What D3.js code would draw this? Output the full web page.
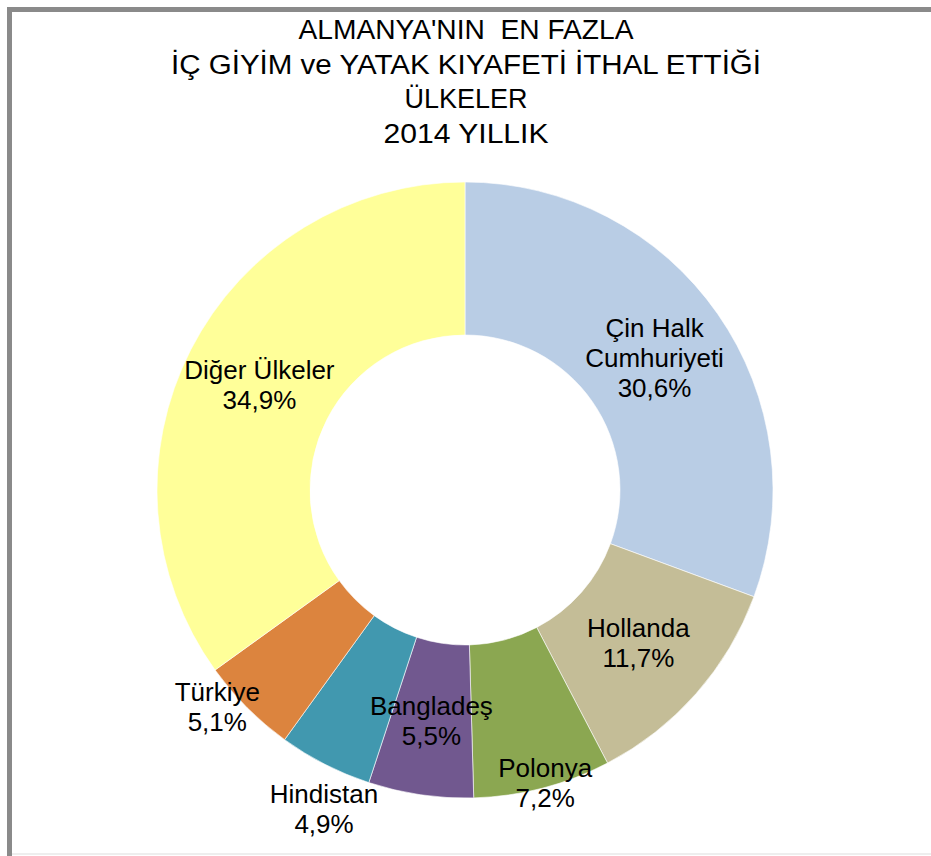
<!DOCTYPE html>
<meta charset="utf-8">
<style>
body { margin: 0; background: #ffffff; }
svg { display: block; }
.title { font-family: "Liberation Sans", Arial, sans-serif; font-size: 27px; fill: #000; white-space: pre; }
.label { font-family: "Liberation Sans", Arial, sans-serif; font-size: 26px; fill: #000; }
</style>
<svg width="931" height="856"></svg>
<script src="https://d3js.org/d3.v7.min.js"></script>
<script>

// chart data
const countries = ["Çin Halk Cumhuriyeti", "Hollanda", "Polonya", "Bangladeş", "Hindistan", "Türkiye", "Diğer Ülkeler"];
const shares = [30.6, 11.7, 7.2, 5.5, 4.9, 5.1, 34.9];
const labelLines = [["Çin Halk", "Cumhuriyeti"], ["Hollanda"], ["Polonya"], ["Bangladeş"], ["Hindistan"], ["Türkiye"], ["Diğer Ülkeler"]];
const titleLines = ["ALMANYA'NIN  EN FAZLA", "İÇ GİYİM ve YATAK KIYAFETİ İTHAL ETTİĞİ", "ÜLKELER", "2014 YILLIK"];

// styling / layout
const colours = ["#b9cde5", "#c4bd97", "#8ba751", "#71588f", "#4198af", "#dc843e", "#ffff99"];
const titleWidths = [335, 590, 123, 165];
// label radius and angle nudge (degrees) per slice
const labelPos = [[231, 0], [231, 0], [304, -0.7], [233, 0], [349, -3.2], [329, 3.8], [231, 0]];

const width = 931, height = 856;
const cx = 465, cy = 490;
const outerR = 308, innerR = 155;
const lineH = 30;

const svg = d3.select("svg");

// frame: dark left and top edge, faint bottom line
svg.append("rect").attr("x", 7).attr("y", 7).attr("width", width - 7).attr("height", 5).attr("fill", "#8a8a8a");
svg.append("rect").attr("x", 7).attr("y", 7).attr("width", 5).attr("height", height - 7).attr("fill", "#8a8a8a");
svg.append("rect").attr("x", 12).attr("y", 853).attr("width", width - 12).attr("height", 2).attr("fill", "#eeeeee");

// title
svg.selectAll(".title")
  .data(titleLines)
  .enter().append("text")
  .attr("class", "title")
  .attr("x", 466)
  .attr("y", function(d, i) { return 39 + i * 34.5; })
  .attr("text-anchor", "middle")
  .attr("textLength", function(d, i) { return titleWidths[i]; })
  .attr("lengthAdjust", "spacingAndGlyphs")
  .text(function(d) { return d; });

const pie = d3.pie().sort(null).value(function(d) { return d; });
const arcs = pie(shares);

const arc = d3.arc().innerRadius(innerR).outerRadius(outerR);

const g = svg.append("g").attr("transform", "translate(" + cx + "," + cy + ")");

g.selectAll(".slice")
  .data(arcs)
  .enter().append("path")
  .attr("class", "slice")
  .attr("d", arc)
  .attr("fill", function(d, i) { return colours[i]; })
  .attr("stroke", "#ffffff")
  .attr("stroke-width", 0.6);

const fmt = function(v) { return v.toFixed(1).replace(".", ",") + "%"; };

const labels = g.selectAll(".label")
  .data(arcs)
  .enter().append("text")
  .attr("class", "label")
  .attr("text-anchor", "middle")
  .each(function(d, i) {
    const mid = (d.startAngle + d.endAngle) / 2 + labelPos[i][1] * Math.PI / 180;
    const r = labelPos[i][0];
    const x = r * Math.sin(mid), y = -r * Math.cos(mid);
    const lines = labelLines[i].concat([fmt(shares[i])]);
    const t = d3.select(this);
    lines.forEach(function(s, k) {
      t.append("tspan")
        .attr("x", x)
        .attr("y", y + (k - (lines.length - 1) / 2) * lineH + 9)
        .text(s);
    });
  });

</script>
